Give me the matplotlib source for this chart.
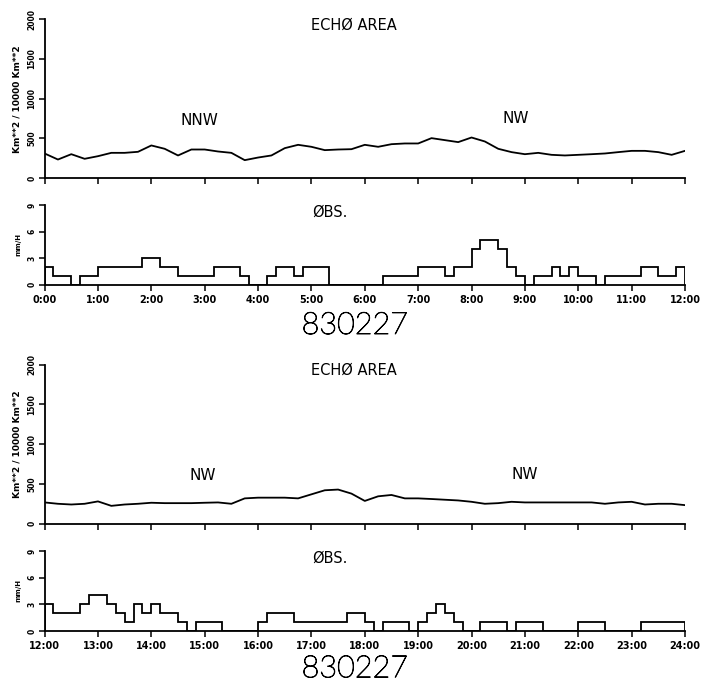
import numpy as np
import matplotlib
matplotlib.use('Agg')
import matplotlib.pyplot as plt
import matplotlib.patheffects as pe

# echo area every 15 min (Km**2 / 10000 Km**2)
echo_am = [311, 235, 302, 244, 277, 319, 319, 332, 412, 370, 286, 361, 361, 336, 319,
           227, 260, 286, 378, 420, 395, 353, 361, 365, 420, 395, 428, 437, 437, 504,
           479, 454, 512, 462, 370, 328, 302, 319, 294, 286, 294, 302, 311, 328, 344,
           344, 328, 294, 344]
echo_pm = [266, 249, 240, 249, 279, 223, 240, 249, 262, 257, 257, 257, 262, 266, 249,
           317, 326, 326, 326, 317, 368, 419, 428, 377, 285, 343, 360, 317, 317, 309,
           300, 291, 274, 249, 257, 274, 266, 266, 266, 266, 266, 266, 249, 266, 274,
           240, 249, 249, 232]

# observed rain rate every 10 min (mm/H)
obs_am = [2, 1, 1, 0, 1, 1, 2, 2, 2, 2, 2, 3, 3, 2, 2, 1, 1, 1, 1, 2, 2, 2, 1, 0,
          0, 1, 2, 2, 1, 2, 2, 2, 0, 0, 0, 0, 0, 0, 1, 1, 1, 1, 2, 2, 2, 1, 2, 2,
          4, 5, 5, 4, 2, 1, 0, 1, 1, 2, 1, 2, 1, 1, 0, 1, 1, 1, 1, 2, 2, 1, 1, 2]
obs_pm = [3, 2, 2, 2, 3, 4, 4, 3, 2, 1, 3, 2, 3, 2, 2, 1, 0, 1, 1, 1, 0, 0, 0, 0,
          1, 2, 2, 2, 1, 1, 1, 1, 1, 1, 2, 2, 1, 0, 1, 1, 1, 0, 1, 2, 3, 2, 1, 0,
          0, 1, 1, 1, 0, 1, 1, 1, 0, 0, 0, 0, 1, 1, 1, 0, 0, 0, 0, 1, 1, 1, 1, 1]

date_label = '830227'
wind_am = [('NNW', 2.9, 720), ('NW', 8.82, 755)]
wind_pm = [('NW', 14.96, 600), ('NW', 21.0, 620)]

plt.rcParams['font.family'] = ['DejaVu Sans']
fig = plt.figure(figsize=(7.08, 6.88), dpi=100)

L, W = 0.063, 0.9045


def style(ax):
    ax.spines['top'].set_visible(False)
    ax.spines['right'].set_visible(False)
    for s in ['left', 'bottom']:
        ax.spines[s].set_linewidth(1.3)
    ax.tick_params(direction='out', length=4, width=1.1)
    ax.tick_params(axis='y', labelrotation=90, labelsize=5.5, pad=2)
    for lab in ax.get_yticklabels():
        lab.set_fontweight('bold')
        lab.set_va('center')


def draw_half(y_echo, y_obs, start, echo, obs, winds, title_y):
    t_echo = start + np.arange(len(echo)) * 0.25
    edges = start + np.arange(len(obs) + 1) / 6.0
    hours = np.arange(start, start + 13)

    ax1 = fig.add_axes([L, y_echo, W, 0.231])
    ax1.plot(t_echo, echo, color='black', lw=1.3)
    ax1.set_xlim(start, start + 12)
    ax1.set_ylim(0, 2000)
    ax1.set_xticks(hours)
    ax1.set_xticklabels([])
    ax1.set_yticks([0, 500, 1000, 1500, 2000])
    ax1.set_ylabel('Km**2 / 10000 Km**2', fontsize=6.5, fontweight='bold', labelpad=4)
    style(ax1)
    ax1.text(start + 5.8, 1930, 'ECHØ AREA', ha='center', va='center', fontsize=10.5)
    for name, x, y in winds:
        ax1.text(x, y, name, ha='center', va='center', fontsize=11)

    ax2 = fig.add_axes([L, y_obs, W, 0.116])
    ax2.stairs(obs, edges, baseline=0, color='black', lw=1.3)
    ax2.set_xlim(start, start + 12)
    ax2.set_ylim(0, 9)
    ax2.set_xticks(hours)
    ax2.set_xticklabels(['%d:00' % h for h in hours], fontsize=7, fontweight='bold')
    ax2.set_yticks([0, 3, 6, 9])
    ax2.set_ylabel('mm/H', fontsize=5, fontweight='bold', labelpad=4)
    style(ax2)
    ax2.text(start + 5.35, 8.2, 'ØBS.', ha='center', va='center', fontsize=10.5)

    # thin plotter-style date label
    fig.text(0.501, title_y, date_label, ha='center', va='center', fontsize=22,
             fontweight='light', family=['Lato', 'DejaVu Sans'],
             path_effects=[pe.withStroke(linewidth=0.7, foreground='black')])


draw_half(0.741, 0.586, 0, echo_am, obs_am, wind_am, 0.527)
draw_half(0.239, 0.083, 12, echo_pm, obs_pm, wind_pm, 0.028)

fig.savefig('out.png', dpi=100)
